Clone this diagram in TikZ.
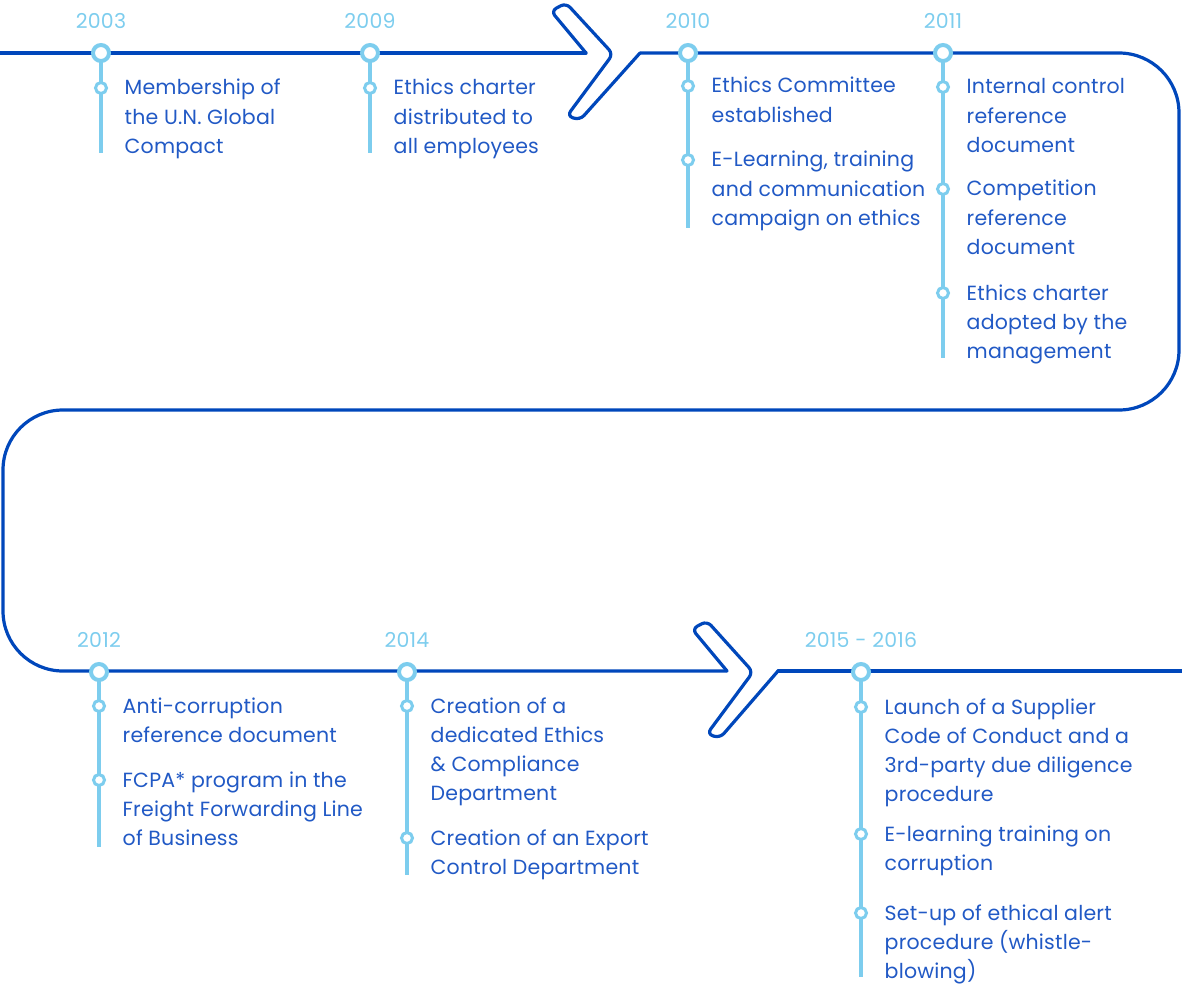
\documentclass[tikz,border=0pt]{standalone}
\usepackage{fontspec}
\setmainfont{Poppins}[LetterSpace=1]
\definecolor{dblue}{HTML}{0047BB}
\definecolor{lblue}{HTML}{7DCDEE}
\definecolor{tblue}{HTML}{2159C5}
\tikzset{
 mainline/.style={draw=dblue, line width=3.2pt, line join=round, line cap=round},
 stem/.style={draw=lblue, line width=4pt},
 yeardot/.style={circle, draw=lblue, fill=white, line width=4pt, minimum size=16pt, inner sep=0pt},
 itemdot/.style={circle, draw=lblue, fill=white, line width=3pt, minimum size=11pt, inner sep=0pt},
 itemtxt/.style={anchor=base west, inner sep=0pt, text=tblue, font=\fontsize{20.5}{24}\selectfont},
 yeartxt/.style={anchor=base, inner sep=0pt, text=lblue, font=\fontsize{20.5}{24}\selectfont},
}
% year: name, x, y of line, label, stem end y, label baseline y
\newcommand{\yearmark}[6]{%
  \coordinate (#1-top) at (#2,#3);
  \coordinate (#1-end) at (#2,#5);
  \draw[stem] (#1-top) -- (#1-end);
  \node[yeardot] (#1) at (#1-top) {};
  \node[yeartxt] (#1-lbl) at (#2,#6) {#4};
}
% entry: name, stem x, y, lines
\newcommand{\entrymark}[4]{%
  \node[itemdot] (#1) at (#2,#3) {};
  \foreach \txtline [count=\k] in {#4} {
    \node[itemtxt] (#1-\k) at (#2+23.5, #3+7+29.3*\k-29.3) {\txtline};
  }
}
\begin{document}
\begin{tikzpicture}[x=1pt,y=-1pt]
\useasboundingbox (0,0) rectangle (1182,984);
% main line
\coordinate (s0) at (0,53);
\coordinate (a1) at (586,53);
\coordinate (f1) at (640,53);
\coordinate (a2) at (727,671);
\coordinate (f2) at (778,671);
\coordinate (e2) at (1182,671);
\draw[mainline] (s0) -- (a1);
\draw[mainline, rounded corners=6pt] (a1) -- (551,11) -- (566,3) -- (613,54) -- (567,116) -- (580,120) -- (f1);
\draw[mainline, rounded corners=60pt] (f1) -- (1179,53) -- (1179,410) -- (3,410) -- (3,671) -- (a2);
\draw[mainline, rounded corners=6pt] (a2) -- (692,629) -- (707,621) -- (753,672) -- (707,734) -- (720,738) -- (f2);
\draw[mainline] (f2) -- (e2);
% 2003
\yearmark{y2003}{101}{53}{2003}{153}{29}
\entrymark{e2003a}{101}{88}{Membership of, the U.N. Global, Compact}
% 2009
\yearmark{y2009}{370}{53}{2009}{153}{29}
\entrymark{e2009a}{370}{88}{Ethics charter, distributed to, all employees}
% 2010
\yearmark{y2010}{688}{53}{2010}{228}{29}
\entrymark{e2010a}{688}{86}{Ethics Committee, established}
\entrymark{e2010b}{688}{160}{{E-Learning, training}, and communication, campaign on ethics}
% 2011
\yearmark{y2011}{943}{53}{2011}{358}{29}
\entrymark{e2011a}{943}{87}{Internal control, reference, document}
\entrymark{e2011b}{943}{189}{Competition, reference, document}
\entrymark{e2011c}{943}{293}{Ethics charter, adopted by the, management}
% 2012
\yearmark{y2012}{99}{672}{2012}{847}{647}
\entrymark{e2012a}{99}{706}{Anti-corruption, reference document}
\entrymark{e2012b}{99}{780}{FCPA* program in the, Freight Forwarding Line, of Business}
% 2014
\yearmark{y2014}{407}{672}{2014}{875}{647}
\entrymark{e2014a}{407}{706}{Creation of a, dedicated Ethics, \& Compliance, Department}
\entrymark{e2014b}{407}{838}{Creation of an Export, Control Department}
% 2015 - 2016
\yearmark{y2015}{861}{672}{2015 - 2016}{977}{647}
\entrymark{e2015a}{861}{707}{Launch of a Supplier, Code of Conduct and a, 3rd-party due diligence, procedure}
\entrymark{e2015b}{861}{834}{E-learning training on, corruption}
\entrymark{e2015c}{861}{913}{Set-up of ethical alert, procedure (whistle-, blowing)}
\end{tikzpicture}
\end{document}
